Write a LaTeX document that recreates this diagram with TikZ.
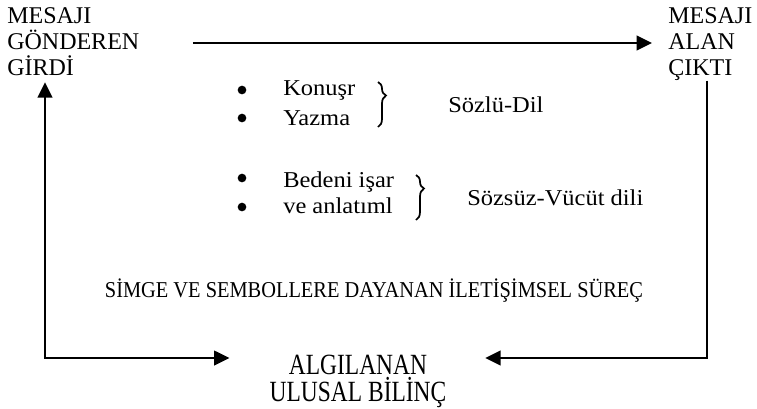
\documentclass[tikz,border=0pt]{standalone}
\usepackage{fontspec}
\setmainfont{Liberation Serif}
\newfontfamily\wideserif[FakeStretch=1.08]{Liberation Serif}
\newfontfamily\narrowserif[FakeStretch=0.8]{Liberation Serif}
\newfontfamily\condserif[FakeStretch=0.9]{Liberation Serif}
\usetikzlibrary{arrows.meta,decorations.pathreplacing}

\begin{document}
\begin{tikzpicture}[x=0.75pt, y=-0.75pt,
    endlabel/.style={inner sep=0pt, align=left, anchor=north west, font=\fontsize{18}{19.5}\selectfont},
    item/.style={inner sep=0pt, anchor=base west, font=\wideserif\fontsize{17}{18}\selectfont},
    dot/.style={circle, fill=black, inner sep=0pt, minimum size=6.5pt},
    flow/.style={line width=1.4pt, -{Triangle[length=11.5pt, width=11pt]}},
    curly/.style={line width=1.3pt, decorate, decoration={brace, amplitude=6pt, aspect=0.3}}]
    \useasboundingbox (0,0) rectangle (757,408);

    % Sender and receiver
    \node[endlabel] (sender) at (7,7) {MESAJI\\GÖNDEREN\\GİRDİ};
    \node[endlabel] (receiver) at (668,7) {MESAJI\\ALAN\\ÇIKTI};

    % Verbal language
    \node[dot] (dot1) at (242,90) {};
    \node[dot] (dot2) at (242,118) {};
    \node[item] (konus) at (283,95) {Konuşr};
    \node[item] (yazma) at (283,125) {Yazma};
    \draw[curly] (378,82) -- (378,127);
    \node[item] (verbal) at (448,112) {Sözlü-Dil};

    % Body language
    \node[dot] (dot3) at (242,178) {};
    \node[dot] (dot4) at (242,207) {};
    \node[item] (bedeni) at (283,187) {Bedeni işar};
    \node[item] (anlatim) at (283,213) {ve anlatıml};
    \draw[curly] (416,175) -- (416,220);
    \node[item] (nonverbal) at (467,205) {Sözsüz-Vücüt dili};

    % Process
    \node[inner sep=0pt, anchor=base, font=\condserif\fontsize{17}{18}\selectfont] (process) at (374,297)
        {SİMGE VE SEMBOLLERE DAYANAN İLETİŞİMSEL SÜREÇ};

    % Result
    \node[inner sep=0pt, anchor=north, align=center, font=\narrowserif\fontsize{22}{20}\selectfont] (result) at (358,355)
        {ALGILANAN\\ULUSAL BİLİNÇ};

    % Arrows
    \coordinate (topline) at (0,43);
    \coordinate (lowleft) at (45,358);
    \coordinate (lowright) at (707,358);
    \draw[flow, shorten <=40pt, shorten >=12pt] (sender.east |- topline) -- (receiver.west |- topline);
    \draw[flow, {Triangle[length=11.5pt, width=11pt]}-{Triangle[length=11.5pt, width=11pt]}, shorten <=5pt, shorten >=30pt]
        (sender.south -| lowleft) -- (lowleft) -- (result.west |- lowleft);
    \draw[flow, shorten >=29pt] (receiver.south -| lowright) -- (lowright) -- (result.east |- lowright);
\end{tikzpicture}
\end{document}
